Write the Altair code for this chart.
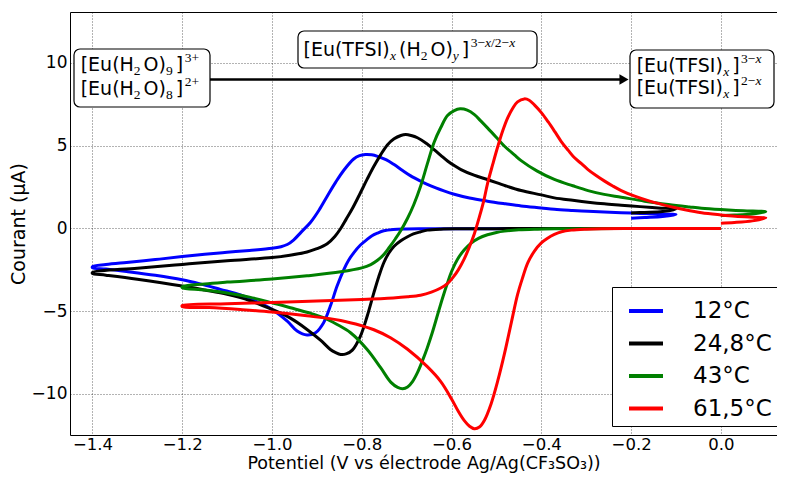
import altair as alt
import pandas as pd

# ---------------- axes / layout constants ----------------
XMIN, XMAX = -1.45, 0.125
YMIN, YMAX = -12.479, 13.08
W, H = 707, 423
PAD_L, PAD_T = 62, 4
PAD_B = 465 - PAD_T - H

series_names = ["12°C", "24,8°C", "43°C", "61,5°C"]
series_colors = ["#0000ff", "#000000", "#008000", "#ff0000"]

x_ticks = [-1.4, -1.2, -1.0, -0.8, -0.6, -0.4, -0.2, 0.0]
y_ticks = [-10, -5, 0, 5, 10]

# ---------------- data ----------------
blue_x = [-0.20, -0.30, -0.40, -0.50, -0.60, -0.66, -0.70, -0.73, -0.751, -0.765, -0.778, -0.788,
          -0.803, -0.818, -0.83, -0.84, -0.855, -0.87, -0.885, -0.903, -0.922, -0.944, -0.966,
          -1.00, -1.034, -1.07, -1.115, -1.16, -1.20, -1.26, -1.324, -1.37, -1.40,
          -1.40, -1.37, -1.324, -1.26, -1.20, -1.15, -1.10, -1.05, -1.00, -0.98, -0.966, -0.952,
          -0.935, -0.914, -0.895, -0.877, -0.858, -0.84, -0.818, -0.805, -0.792, -0.778, -0.765,
          -0.745, -0.728, -0.71, -0.691, -0.669, -0.654, -0.635, -0.617, -0.594, -0.56, -0.52,
          -0.48, -0.445, -0.40, -0.371, -0.33, -0.296, -0.26, -0.222, -0.18, -0.14, -0.10,
          -0.13, -0.17, -0.20]
blue_y = [0.00, 0.00, 0.00, -0.01, -0.01, -0.02, -0.03, -0.06, -0.14, -0.28, -0.45, -0.66,
          -1.00, -1.47, -1.95, -2.48, -3.48, -4.69, -5.69, -6.30, -6.44, -6.20, -5.60,
          -4.89, -4.42, -4.02, -3.68, -3.35, -3.10, -2.83, -2.60, -2.45, -2.37,
          -2.31, -2.18, -2.05, -1.88, -1.70, -1.56, -1.44, -1.33, -1.20, -1.10, -0.97, -0.70,
          -0.22, 0.38, 1.12, 1.95, 2.80, 3.52, 4.20, 4.40, 4.47, 4.45, 4.36,
          4.14, 3.86, 3.52, 3.18, 2.86, 2.66, 2.45, 2.27, 2.07, 1.84, 1.65,
          1.49, 1.36, 1.24, 1.16, 1.09, 1.04, 0.99, 0.95, 0.91, 0.87, 0.84,
          0.72, 0.66, 0.62]

black_x = [-0.20, -0.30, -0.40, -0.50, -0.58, -0.624, -0.654, -0.669, -0.685, -0.698, -0.713,
           -0.728, -0.74, -0.751, -0.762, -0.773, -0.788, -0.803, -0.821, -0.835, -0.847, -0.858,
           -0.87, -0.892, -0.922, -0.959, -1.00, -1.05, -1.10, -1.15, -1.20, -1.30, -1.37, -1.40,
           -1.40, -1.30, -1.20, -1.10, -1.00, -0.96, -0.922, -0.90, -0.877, -0.86, -0.847, -0.835,
           -0.82, -0.803, -0.788, -0.773, -0.758, -0.743, -0.728, -0.713, -0.702, -0.69, -0.676,
           -0.655, -0.639, -0.624, -0.609, -0.594, -0.579, -0.55, -0.52, -0.48, -0.445, -0.40,
           -0.371, -0.33, -0.296, -0.26, -0.222, -0.18, -0.14, -0.10,
           -0.13, -0.17, -0.20]
black_y = [0.00, 0.00, 0.00, -0.01, -0.02, -0.04, -0.10, -0.20, -0.33, -0.50, -0.74,
           -1.07, -1.50, -2.07, -2.90, -3.88, -5.30, -6.50, -7.35, -7.58, -7.61, -7.50,
           -7.31, -6.75, -6.10, -5.42, -4.89, -4.35, -3.98, -3.72, -3.48, -3.07, -2.82, -2.72,
           -2.66, -2.40, -2.17, -1.95, -1.76, -1.62, -1.42, -1.22, -0.92, -0.48, 0.00, 0.55,
           1.25, 2.16, 2.98, 3.76, 4.45, 5.05, 5.42, 5.62, 5.68, 5.62, 5.48,
           5.12, 4.77, 4.42, 4.08, 3.80, 3.56, 3.22, 2.96, 2.58, 2.29, 2.03,
           1.85, 1.70, 1.59, 1.49, 1.41, 1.32, 1.24, 1.17,
           1.02, 0.97, 0.94]

green_x = [0.00, -0.10, -0.20, -0.30, -0.37, -0.408, -0.45, -0.482, -0.50, -0.52, -0.54, -0.557,
           -0.572, -0.587, -0.60, -0.609, -0.62, -0.631, -0.643, -0.654, -0.665, -0.676, -0.687,
           -0.698, -0.709, -0.72, -0.735, -0.758, -0.788, -0.825, -0.855, -0.885, -0.92, -0.959,
           -1.00, -1.05, -1.10, -1.15, -1.20,
           -1.20, -1.15, -1.10, -1.00, -0.922, -0.847, -0.80, -0.78, -0.765, -0.75, -0.738,
           -0.725, -0.713, -0.698, -0.684, -0.669, -0.654, -0.639, -0.624, -0.609, -0.594,
           -0.581, -0.565, -0.549, -0.535, -0.52, -0.50, -0.482, -0.46, -0.445, -0.41, -0.371,
           -0.33, -0.296, -0.26, -0.222, -0.17, -0.117, -0.07, -0.043, 0.00, 0.05, 0.10,
           0.07, 0.03, 0.00]
green_y = [0.00, 0.00, 0.00, -0.01, -0.02, -0.04, -0.08, -0.16, -0.24, -0.38, -0.60, -0.90,
           -1.30, -1.87, -2.60, -3.28, -4.20, -5.20, -6.30, -7.20, -8.00, -8.71, -9.25,
           -9.58, -9.68, -9.60, -9.30, -8.41, -7.31, -6.30, -5.80, -5.39, -5.08, -4.79,
           -4.49, -4.15, -3.90, -3.72, -3.58,
           -3.52, -3.35, -3.24, -3.06, -2.86, -2.62, -2.38, -2.18, -1.92, -1.55, -1.12,
           -0.62, -0.12, 0.62, 1.45, 2.55, 3.90, 5.20, 6.10, 6.82, 7.12,
           7.23, 7.15, 6.88, 6.50, 6.08, 5.50, 4.97, 4.45, 4.10, 3.48, 2.96,
           2.58, 2.29, 2.06, 1.89, 1.65, 1.45, 1.30, 1.22, 1.14, 1.07, 1.01,
           0.88, 0.81, 0.78]

red_x = [0.00, -0.10, -0.20, -0.266, -0.30, -0.333, -0.355, -0.371, -0.387, -0.40, -0.415, -0.43,
         -0.442, -0.453, -0.467, -0.482, -0.497, -0.512, -0.527, -0.538, -0.549, -0.56, -0.572,
         -0.585, -0.60, -0.624, -0.654, -0.698, -0.736, -0.773, -0.80, -0.847, -0.922, -1.00,
         -1.071, -1.14, -1.20,
         -1.20, -1.10, -1.00, -0.90, -0.80, -0.73, -0.698, -0.669, -0.645, -0.624, -0.61,
         -0.598, -0.585, -0.572, -0.56, -0.549, -0.538, -0.528, -0.52, -0.508, -0.497, -0.486,
         -0.475, -0.464, -0.453, -0.438, -0.427, -0.415, -0.40, -0.385, -0.37, -0.356, -0.34,
         -0.326, -0.31, -0.296, -0.278, -0.259, -0.24, -0.222, -0.192, -0.155, -0.117, -0.08,
         -0.043, 0.00, 0.032, 0.07, 0.10,
         0.07, 0.03, 0.00]
red_y = [0.00, 0.00, 0.00, -0.01, -0.04, -0.10, -0.20, -0.36, -0.60, -0.87, -1.35, -2.07,
         -3.00, -4.00, -5.70, -7.55, -9.20, -10.60, -11.60, -12.00, -12.10, -11.95, -11.60,
         -11.05, -10.30, -9.25, -8.35, -7.30, -6.60, -6.12, -5.88, -5.56, -5.28, -5.05,
         -4.90, -4.78, -4.72,
         -4.66, -4.55, -4.47, -4.38, -4.29, -4.20, -4.13, -4.03, -3.85, -3.60, -3.35,
         -3.00, -2.50, -1.85, -1.10, -0.30, 0.70, 1.70, 2.70, 3.90, 4.95, 5.90,
         6.68, 7.25, 7.65, 7.83, 7.75, 7.45, 7.00, 6.45, 5.85, 5.27, 4.72,
         4.27, 3.90, 3.56, 3.20, 2.86, 2.55, 2.29, 1.95, 1.62, 1.35, 1.13,
         0.95, 0.82, 0.74, 0.68, 0.64,
         0.46, 0.36, 0.32]

# ---------------- annotation texts ----------------
label_left = [
    [("[Eu(H", "n"), ("2", "sb"), ("O)", "n"), ("9", "sb"), ("]", "n"), ("3+", "sp")],
    [("[Eu(H", "n"), ("2", "sb"), ("O)", "n"), ("8", "sb"), ("]", "n"), ("2+", "sp")],
]
label_mid = [
    [("[Eu(TFSI)", "n"), ("x", "sbi"), ("(H", "n"), ("2", "sb"), ("O)", "n"), ("y", "sbi"),
     ("]", "n"), ("3−", "sp"), ("x", "spi"), ("/2−", "sp"), ("x", "spi")],
]
label_right = [
    [("[Eu(TFSI)", "n"), ("x", "sbi"), ("]", "n"), ("3−", "sp"), ("x", "spi")],
    [("[Eu(TFSI)", "n"), ("x", "sbi"), ("]", "n"), ("2−", "sp"), ("x", "spi")],
]

# ---------------- helpers (layout only) ----------------
SX = (XMAX - XMIN) / W
SY = (YMAX - YMIN) / H


def px2x(px):
    return XMIN + (px - (PAD_L + 8)) * SX


def py2y(py):
    return YMAX - (py - (PAD_T + 8)) * SY


FS_N, FS_S = 19, 13.5
DJV = {"[": 799, "]": 799, "(": 799, ")": 799, "E": 1294, "u": 1298, "H": 1540, "O": 1612,
       "T": 1251, "F": 1178, "S": 1300, "I": 604, " ": 651}
LIB = {"+": 1155, "−": 1155, "/": 569, "x": 909, "y": 909}


def width(text, kind):
    if kind == "n":
        return sum(DJV.get(c, 1250) for c in text) * FS_N / 2048
    return sum(LIB.get(c, 1024) for c in text) * FS_S / 2048


rows_n, rows_s, rows_i = [], [], []


def place(segs, px0, py_base):
    cur = px0
    prev = None
    for text, kind in segs:
        if prev in ("sb", "sbi") and kind == "n":
            cur += 3
        if prev == "n" and kind in ("sp", "spi"):
            cur += 1.5
        dy = 0
        if kind in ("sb", "sbi"):
            dy = 4.5
        elif kind in ("sp", "spi"):
            dy = -9
        row = {"x": px2x(cur), "y": py2y(py_base + dy), "t": text}
        if kind == "n":
            rows_n.append(row)
        elif kind in ("sb", "sp"):
            rows_s.append(row)
        else:
            rows_i.append(row)
        cur += width(text, kind)
        prev = kind


place(label_left[0], 80.7, 70.5)
place(label_left[1], 80.7, 94.5)
place(label_mid[0], 303.5, 55.5)
place(label_right[0], 636.7, 71.7)
place(label_right[1], 636.7, 93.5)

boxes = pd.DataFrame([
    {"x": px2x(74), "x2": px2x(210), "y": py2y(49), "y2": py2y(107)},
    {"x": px2x(298), "x2": px2x(537), "y": py2y(31), "y2": py2y(68)},
    {"x": px2x(630), "x2": px2x(774), "y": py2y(50), "y2": py2y(108)},
])
arrow = pd.DataFrame([{"x": px2x(210), "x2": px2x(620), "y": py2y(79.5)}])
head = pd.DataFrame([{"x": px2x(624), "y": py2y(79.5)}])

rows = []
for name, xs, ys in zip(series_names, [blue_x, black_x, green_x, red_x],
                        [blue_y, black_y, green_y, red_y]):
    for i, (a, b) in enumerate(zip(xs, ys)):
        rows.append({"series": name, "x": a, "y": b, "i": i})
curves = pd.DataFrame(rows)

# ---------------- encodings ----------------
axis_common = dict(grid=True, gridColor="#000000", gridDash=[1, 2], gridOpacity=0.6, gridWidth=1,
                   domain=False, ticks=False, labelFont="DejaVu Sans",
                   labelColor="black", titleFont="DejaVu Sans",
                   titleFontWeight="normal", titleColor="black", labelOverlap=False)

xenc = alt.X("x:Q", scale=alt.Scale(domain=[XMIN, XMAX], nice=False, zero=False),
             title="Potentiel (V vs électrode Ag/Ag(CF₃SO₃))",
             axis=alt.Axis(values=x_ticks, format=".1f", labelPadding=1, labelFlush=False,
                           labelFontSize=16.5, titleFontSize=17.5, titleY=33.5,
                           titleBaseline="alphabetic", **axis_common))
yenc = alt.Y("y:Q", scale=alt.Scale(domain=[YMIN, YMAX], nice=False, zero=False),
             title="Courant (μA)",
             axis=alt.Axis(values=y_ticks, format="d", labelPadding=3, titlePadding=3,
                           labelFontSize=17, titleFontSize=19, **axis_common))

color_enc = alt.Color("series:N",
                      scale=alt.Scale(domain=series_names, range=series_colors),
                      sort=series_names,
                      legend=alt.Legend(orient="none", legendX=542, legendY=275, title=None,
                                        symbolType="stroke", symbolSize=1156,
                                        symbolStrokeWidth=4, symbolOffset=10,
                                        labelFont="DejaVu Sans",
                                        labelFontSize=23, labelColor="black", labelOffset=28,
                                        rowPadding=1.5, padding=5, strokeColor="black",
                                        fillColor="white", cornerRadius=0, labelLimit=300))

line_layers = [
    alt.Chart(curves).transform_filter(alt.datum.series == name)
    .mark_line(strokeWidth=3, interpolate="catmull-rom", clip=True)
    .encode(x=xenc, y=yenc, order="i:Q", color=color_enc)
    for name in series_names
]

box_layer = alt.Chart(boxes).mark_rect(fill="white", stroke="black", strokeWidth=1.2,
                                       cornerRadius=6).encode(x=xenc, x2="x2:Q", y=yenc, y2="y2:Q")
arrow_layer = alt.Chart(arrow).mark_rule(color="black", strokeWidth=2.5).encode(
    x=xenc, x2="x2:Q", y=yenc)
head_layer = alt.Chart(head).mark_point(shape="triangle-right", filled=True, size=110,
                                        color="black", opacity=1).encode(x=xenc, y=yenc)

txt_n = alt.Chart(pd.DataFrame(rows_n)).mark_text(font="DejaVu Sans", fontSize=FS_N, align="left",
                                                  baseline="alphabetic", color="black").encode(
    x=xenc, y=yenc, text="t:N")
txt_s = alt.Chart(pd.DataFrame(rows_s)).mark_text(font="Liberation Serif", fontSize=FS_S,
                                                  align="left", baseline="alphabetic",
                                                  color="black").encode(x=xenc, y=yenc, text="t:N")
txt_i = alt.Chart(pd.DataFrame(rows_i)).mark_text(font="Liberation Serif", fontSize=FS_S,
                                                  fontStyle="italic", align="left",
                                                  baseline="alphabetic",
                                                  color="black").encode(x=xenc, y=yenc, text="t:N")

chart = alt.layer(*line_layers, arrow_layer, head_layer, box_layer, txt_n, txt_s, txt_i).properties(
    width=W, height=H,
    autosize=alt.AutoSizeParams(type="none"),
    padding={"left": PAD_L, "top": PAD_T, "right": 0, "bottom": PAD_B},
    background="white",
).configure_view(stroke="black", strokeWidth=1)

chart.save("out.html", embed_options={"renderer": "svg", "actions": False})
